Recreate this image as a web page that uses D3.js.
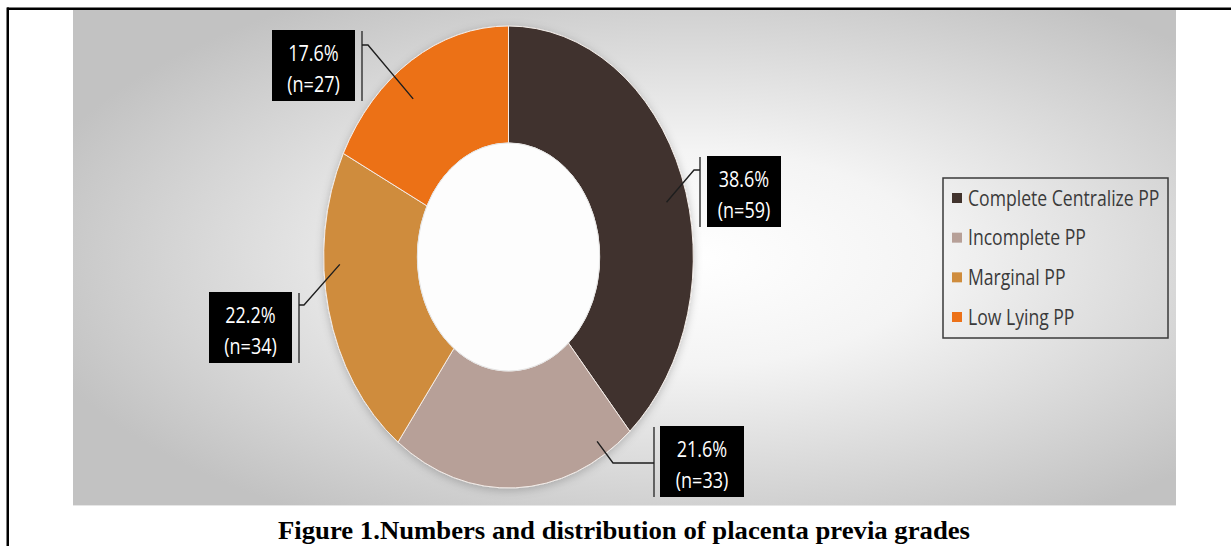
<!DOCTYPE html>
<html><head><meta charset="utf-8">
<script src="https://cdn.jsdelivr.net/npm/d3@7"></script>
<style>html,body{margin:0;padding:0;background:#fff;overflow:hidden}</style>
</head><body>
<svg id="chart" width="1231" height="546"></svg>
<script>
// ---- data ----
const categories = ["Complete Centralize PP", "Incomplete PP", "Marginal PP", "Low Lying PP"];
const counts = [59, 33, 34, 27];
const percents = [38.6, 21.6, 22.2, 17.6];
const colors = ["#41332d", "#b7a098", "#cf8c3d", "#ec7118"];
const caption = "Figure 1.Numbers and distribution of placenta previa grades";

// ---- layout (label boxes, leader elbows, anchor angles) ----
const labelLayout = [
  {box:[707,156,74,71], elbow:[700,170,694,170], anchorAngle:74.5, anchorR:205},
  {box:[660,426,84,71], elbow:[654,463,613,463], anchorAngle:149, anchorR:215},
  {box:[209,292,83,71], elbow:[299,305,304,305], anchorAngle:268, anchorR:211},
  {box:[272,30,83,71], elbow:[362,45,368,45], anchorAngle:323, anchorR:198}
];

const W = 1231, H = 546;
const svg = d3.select("#chart");
const defs = svg.append("defs");

const cx = 508.5, cy = 257, R = 231, r0 = 114, sx = 0.8;

// background gradient
const grad = defs.append("radialGradient").attr("id","bg")
  .attr("cx",0.56).attr("cy",0.5).attr("r",0.62).attr("fx",0.56).attr("fy",0.5);
grad.append("stop").attr("offset","0%").attr("stop-color","#ffffff");
grad.append("stop").attr("offset","35%").attr("stop-color","#f4f4f4");
grad.append("stop").attr("offset","100%").attr("stop-color","#c2c2c2");

const shadow = defs.append("filter").attr("id","sh").attr("x","-20%").attr("y","-20%").attr("width","140%").attr("height","140%");
shadow.append("feDropShadow").attr("dx",0).attr("dy",2).attr("stdDeviation",5)
  .attr("flood-color","#000").attr("flood-opacity",0.22);

// borders
svg.append("rect").attr("x",73).attr("y",10).attr("width",1103).attr("height",496).attr("fill","url(#bg)");
svg.append("line").attr("x1",73).attr("x2",1176).attr("y1",505.5).attr("y2",505.5).attr("stroke","#e6e6e6").attr("stroke-width",1);
svg.append("line").attr("x1",7).attr("x2",W).attr("y1",8.75).attr("y2",8.75).attr("stroke","#000").attr("stroke-width",2.5);
svg.append("line").attr("x1",7.75).attr("x2",7.75).attr("y1",7.5).attr("y2",H).attr("stroke","#000").attr("stroke-width",2.5);

// donut
const pie = d3.pie().sort(null).value(d => d)(percents);
const arc = d3.arc().innerRadius(r0).outerRadius(R);
const g = svg.append("g").attr("transform",`translate(${cx},${cy}) scale(${sx},1)`);
const gPie = g.append("g").attr("filter","url(#sh)");
gPie.selectAll("path").data(pie).join("path")
  .attr("d", arc).attr("fill",(d,i)=>colors[i])
  .attr("stroke","#f3ece8").attr("stroke-width",1).attr("vector-effect","non-scaling-stroke");
g.append("ellipse").attr("rx",r0).attr("ry",r0).attr("fill","#fdfdfd")
  .attr("stroke","#e4e4e4").attr("stroke-width",1).attr("vector-effect","non-scaling-stroke");

// labels
const pt = (angDeg, rad) => {
  const a = angDeg * Math.PI/180;
  return [cx + sx*rad*Math.sin(a), cy - rad*Math.cos(a)];
};
labelLayout.forEach((L,i) => {
  const [bx,by,bw,bh] = L.box;
  const [ex1,ey1,ex2,ey2] = L.elbow;
  const [ax,ay] = pt(L.anchorAngle, L.anchorR);
  svg.append("line").attr("x1",ex1).attr("x2",ex1).attr("y1",by+1).attr("y2",by+bh)
    .attr("stroke","#444").attr("stroke-width",1.6);
  svg.append("polyline").attr("points",`${ex1},${ey1} ${ex2},${ey2} ${ax},${ay}`)
    .attr("fill","none").attr("stroke","#1e1e1e").attr("stroke-width",1.4);
  svg.append("rect").attr("x",bx).attr("y",by).attr("width",bw).attr("height",bh).attr("fill","#000");
  const tx = bx + bw/2;
  const t = svg.append("g").attr("transform",`translate(${tx},0) scale(${sx},1)`)
    .append("text").attr("text-anchor","middle")
    .attr("font-family","Open Sans").attr("font-size",22.5).attr("fill","#fff");
  t.append("tspan").attr("x",0).attr("y",by+31).text(percents[i].toFixed(1)+"%");
  t.append("tspan").attr("x",0).attr("y",by+62).text("(n="+counts[i]+")");
});

// legend
svg.append("rect").attr("x",943).attr("y",178).attr("width",225).attr("height",160)
  .attr("fill","none").attr("stroke","#3a3a3a").attr("stroke-width",1.5);
const legY = d3.scalePoint().domain(categories).range([198,317]);
categories.forEach((c,i) => {
  const y = legY(c);
  svg.append("rect").attr("x",952).attr("y",y-5).attr("width",10).attr("height",10).attr("fill",colors[i]);
  svg.append("g").attr("transform",`translate(968,${y+7.5}) scale(${sx},1)`)
    .append("text").attr("font-family","Open Sans").attr("font-size",22).attr("fill","#3a3a3a").text(c);
});

// caption
svg.append("text").attr("x",624).attr("y",539).attr("text-anchor","middle")
  .attr("font-family","Liberation Serif").attr("font-weight","bold").attr("font-size",25)
  .attr("fill","#000").attr("textLength",692).attr("lengthAdjust","spacingAndGlyphs").text(caption);
</script>
</body></html>
